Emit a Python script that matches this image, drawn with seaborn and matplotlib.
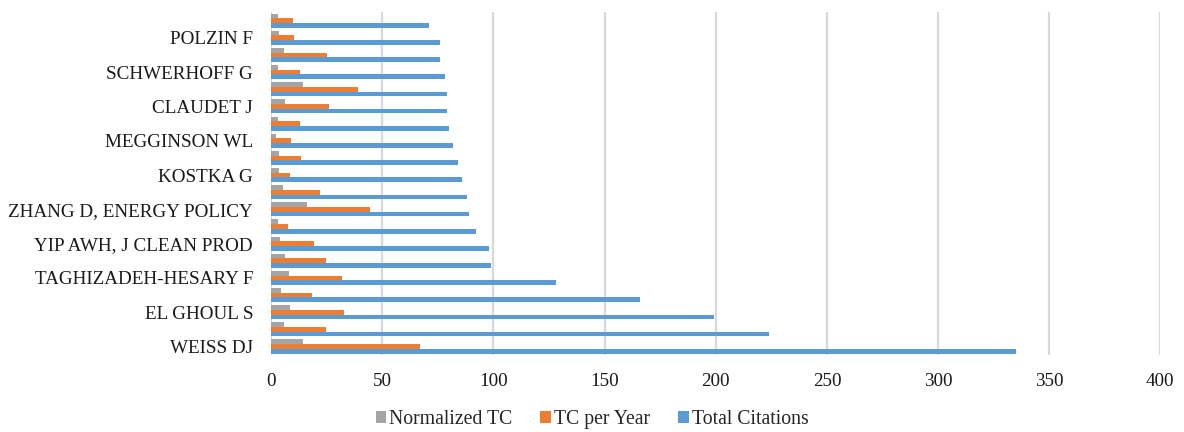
import numpy as np
import pandas as pd
import seaborn as sns
import matplotlib.pyplot as plt

# Documents ranked by total citations (rank 1 = most cited, drawn at the bottom)
ranks = list(range(1, 21))
tick_labels = [
    "WEISS DJ", "", "EL GHOUL S", "", "TAGHIZADEH-HESARY F", "",
    "YIP AWH, J CLEAN PROD", "", "ZHANG D, ENERGY POLICY", "", "KOSTKA G", "",
    "MEGGINSON WL", "", "CLAUDET J", "", "SCHWERHOFF G", "", "POLZIN F", "",
]
total_citations = [335, 224, 199, 166, 128, 99, 98, 92, 89, 88,
                   86, 84, 82, 80, 79, 79, 78, 76, 76, 71]
tc_per_year = [67.0, 24.8, 33.0, 18.3, 31.8, 24.6, 19.4, 7.4, 44.4, 21.8,
               8.3, 13.6, 8.8, 13.0, 26.1, 39.3, 12.8, 25.0, 10.5, 9.9]
normalized_tc = [14.4, 6.0, 8.4, 4.6, 8.1, 6.1, 4.0, 3.2, 16.0, 5.4,
                 3.4, 3.4, 2.1, 3.2, 6.3, 14.3, 3.2, 6.0, 3.4, 3.2]

series_names = ["Normalized TC", "TC per Year", "Total Citations"]
series_colors = ["#A5A5A5", "#ED7D31", "#5B9BD5"]

df = pd.DataFrame({
    "rank": [str(r) for r in ranks],
    "Normalized TC": normalized_tc,
    "TC per Year": tc_per_year,
    "Total Citations": total_citations,
}).melt(id_vars="rank", var_name="metric", value_name="value")

sns.set_theme(style="white")
plt.rcParams["font.family"] = ["Liberation Serif", "DejaVu Serif"]

fig, ax = plt.subplots(figsize=(11.84, 4.32), dpi=100)
fig.subplots_adjust(left=0.229, right=0.98, top=0.972, bottom=0.178)

order = [str(r) for r in reversed(ranks)]
sns.barplot(
    data=df, y="rank", x="value", hue="metric", order=order,
    hue_order=series_names, palette=series_colors, orient="h",
    width=0.82, saturation=1, linewidth=0, ax=ax,
)

ax.set_xlim(0, 400)
ax.set_xticks(np.arange(0, 401, 50))
ax.set_yticks(range(len(order)))
ax.set_yticklabels([tick_labels[int(r) - 1] for r in order])
ax.set_xlabel("")
ax.set_ylabel("")
ax.tick_params(axis="both", length=0, labelsize=13.8, colors="#1a1a1a")
ax.tick_params(axis="y", pad=13)
ax.tick_params(axis="x", pad=13)

ax.grid(axis="x", color="#d9d9d9", linewidth=1.6)
ax.set_axisbelow(True)
for side in ["top", "right", "bottom", "left"]:
    ax.spines[side].set_visible(False)

handles, labels = ax.get_legend_handles_labels()
ax.get_legend().remove()
fig.legend(handles, labels, loc="center", bbox_to_anchor=(0.5, 0.03),
           ncol=3, frameon=False, fontsize=14.2, handlelength=0.55,
           handleheight=0.55, handletextpad=0.15, columnspacing=1.4)

fig.savefig("out.png", dpi=100)
